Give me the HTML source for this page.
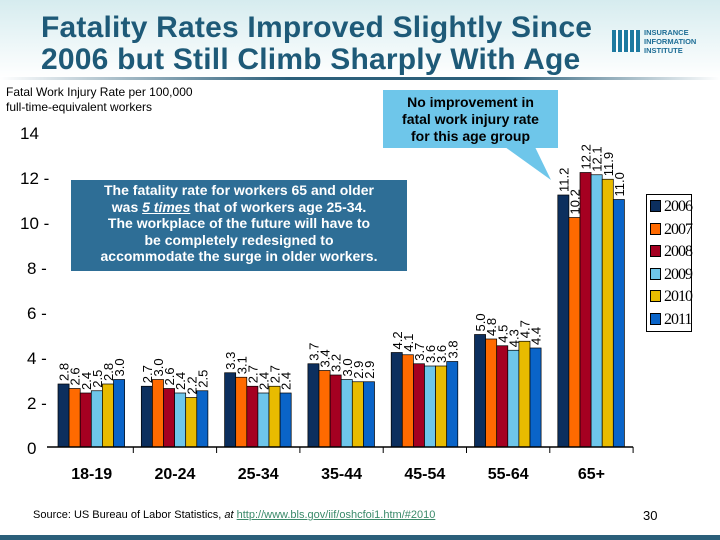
<!DOCTYPE html>
<html><head><meta charset="utf-8"><style>
body{margin:0;width:720px;height:540px;overflow:hidden;background:#fff;font-family:"Liberation Sans",sans-serif;position:relative}
.abs{position:absolute}
</style></head><body>
<div class="abs" style="left:0;top:0;width:720px;height:78px;background:linear-gradient(180deg,#d6ecef 0%,#ffffff 100%)"></div>
<div class="abs" style="left:0;top:77px;width:720px;height:3px;background:linear-gradient(90deg,#fff 0%,#2b5f7a 40%,#2b5f7a 70%,#fff 100%)"></div>
<div class="abs" style="left:41px;top:12px;font-size:30px;font-weight:bold;line-height:32px;color:#1e5a78;letter-spacing:0.2px">Fatality Rates Improved Slightly Since<br>2006 but Still Climb Sharply With Age</div>
<div class="abs" style="left:612px;top:28px;width:100px;height:28px">
<div style="position:absolute;left:0;top:2px;width:28px;height:22px;background:repeating-linear-gradient(90deg,#1e7aa0 0 4px,#fff 4px 6px)"></div>
<div style="position:absolute;left:32px;top:0;font-size:7.5px;font-weight:bold;line-height:9px;color:#1e6e96">INSURANCE<br>INFORMATION<br>INSTITUTE</div></div>
<div class="abs" style="left:6px;top:85px;font-size:12px;line-height:15px;color:#000">Fatal Work Injury Rate per 100,000<br>full-time-equivalent workers</div>
<svg class="abs" style="left:0;top:0" width="720" height="540">
<g id="g"></g>
</svg>
<div class="abs" style="left:383px;top:90px;width:175px;height:58px;background:#6ec6ea;font-size:14px;font-weight:bold;text-align:center;line-height:17px;padding-top:4px;box-sizing:border-box">No improvement in<br>fatal work injury rate<br>for this age group</div>
<svg class="abs" style="left:0;top:0" width="720" height="540"><polygon points="505,147 535,147 551,180" fill="#6ec6ea"/></svg>
<div class="abs" style="left:71px;top:180px;width:336px;height:91px;background:#2e6e96;color:#fff;font-size:14px;font-weight:bold;text-align:center;line-height:16.5px;padding-top:2px;box-sizing:border-box">The fatality rate for workers 65 and older<br>was <i><u>5 times</u></i> that of workers age 25-34.<br>The workplace of the future will have to<br>be completely redesigned to<br>accommodate the surge in older workers.</div>
<div class="abs" style="left:646px;top:194px;width:46px;height:138px;border:1px solid #000;font-family:'Liberation Serif',serif;font-size:16px;letter-spacing:-1px;box-sizing:border-box;padding-top:1px">
<div id="leg"></div></div>
<div class="abs" style="left:33px;top:509px;font-size:11px;color:#000">Source: US Bureau of Labor Statistics, <i>at</i> <span style="color:#3a8a6a;text-decoration:underline">http://www.bls.gov/iif/oshcfoi1.htm/#2010</span></div>
<div class="abs" style="left:643px;top:508px;font-size:13px">30</div>
<div class="abs" style="left:0;top:535px;width:720px;height:5px;background:#2b5f7a"></div>
<script>
const categories=["18-19","20-24","25-34","35-44","45-54","55-64","65+"];
const years=["2006","2007","2008","2009","2010","2011"];
const s2006=[2.8,2.7,3.3,3.7,4.2,5.0,11.2];
const s2007=[2.6,3.0,3.1,3.4,4.1,4.8,10.2];
const s2008=[2.4,2.6,2.7,3.2,3.7,4.5,12.2];
const s2009=[2.5,2.4,2.4,3.0,3.6,4.3,12.1];
const s2010=[2.8,2.2,2.7,2.9,3.6,4.7,11.9];
const s2011=[3.0,2.5,2.4,2.9,3.8,4.4,11.0];
const yTicks=[0,2,4,6,8,10,12,14];
const colors=["#0c2f5e","#ff6a00","#a50021","#6ec6ea","#e8bb00","#0a64c8"];
const series=[s2006,s2007,s2008,s2009,s2010,s2011];
const NS="http://www.w3.org/2000/svg";
const g=document.getElementById('g');
const x0=50,gw=83.3,y0=447,pu=22.5,bw=11.1,off=8;
const yS=v=>y0-v*pu;
function mk(t,a){const e=document.createElementNS(NS,t);for(const k in a)e.setAttribute(k,a[k]);g.appendChild(e);return e;}
yTicks.forEach(v=>{const t=mk('text',{x:v>=10?20:27,y:yS(v)+7,'font-size':17});t.textContent=v+((v>0&&v<14)?'  -':'');

});
series.forEach((s,j)=>s.forEach((v,i)=>{const x=x0+i*gw+off+j*bw;
const r=mk('rect',{x:x,y:yS(v),width:bw,height:v*pu,fill:colors[j],stroke:'#000','stroke-width':0.7});


const t=mk('text',{transform:`translate(${x+bw-0.5},${yS(v)-3}) rotate(-90)`,'font-size':13});t.textContent=v.toFixed(1);

}));
const ax=mk('line',{x1:x0-3,x2:x0+7*gw,y1:y0,y2:y0,stroke:'#000','stroke-width':1.5});


categories.forEach((c,i)=>{if(i>0)mk('line',{x1:x0+i*gw,x2:x0+i*gw,y1:y0,y2:y0+6,stroke:'#000'});if(i==6)mk('line',{x1:x0+7*gw,x2:x0+7*gw,y1:y0,y2:y0+6,stroke:'#000'});
const t=mk('text',{x:x0+i*gw+gw/2,y:y0+32,'text-anchor':'middle','font-size':16,'font-weight':'bold'});t.textContent=c;

});
const leg=document.getElementById('leg');
years.forEach((y,j)=>{const d=document.createElement('div');


d.style.cssText='height:22.5px;line-height:22px;padding-left:3px;white-space:nowrap';
d.innerHTML=`<span style="display:inline-block;width:9px;height:10px;background:${colors[j]};border:1px solid #000;margin-right:3px;vertical-align:-1px"></span>${y}`;leg.appendChild(d);});
</script>
</body></html>
